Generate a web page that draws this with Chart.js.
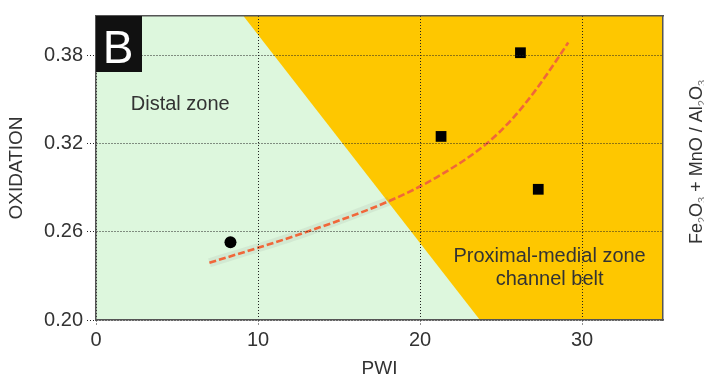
<!DOCTYPE html>
<html>
<head>
<meta charset="utf-8">
<script src="https://cdn.jsdelivr.net/npm/chart.js@4.4.0/dist/chart.umd.min.js"></script>
<style>
  html, body { margin: 0; padding: 0; background: #fff; }
  #wrap { width: 704px; height: 376px; }
</style>
</head>
<body>
<div id="wrap"><canvas id="myChart"></canvas></div>
<script>
// axes
let xTicks = [0, 10, 20, 30]
let yTicks = [0.20, 0.26, 0.32, 0.38]
let xMin = 0, xMax = 35
let yMin = 0.20, yMax = 0.407

// proximal-medial zone boundary (orange area above/right of it)
let zoneX = [9.1, 23.7, 35]
let zoneY = [0.407, 0.20, 0.20]

// samples
let circleX = [8.3]
let circleY = [0.253]
let squareX = [21.3, 26.2, 27.3]
let squareY = [0.325, 0.382, 0.289]

// trend curve
let trendX = [7.0, 10.1, 13.0, 18.1, 21.0, 24.1, 25.7, 27.1, 28.5, 29.15]
let trendY = [0.239, 0.2495, 0.260, 0.281, 0.297, 0.320, 0.337, 0.356, 0.378, 0.389]

function pts(xs, ys) {
    return xs.map((x, i) => ({ x: x, y: ys[i] }))
}

let fontFam = '"Liberation Sans", Arial, Helvetica, sans-serif'
let txt = '#333'

// texts drawn on top: panel letter, zone names, right axis label
let overlay = {
    id: 'overlay',
    afterDraw(chart) {
        let c = chart.ctx
        let a = chart.chartArea
        let sx = chart.scales.x, sy = chart.scales.y
        c.save()
        // B box
        c.fillStyle = '#111'
        c.fillRect(a.left, a.top, 46, 56)
        c.fillStyle = '#fff'
        c.font = '46px ' + fontFam
        c.textAlign = 'center'
        c.textBaseline = 'alphabetic'
        c.fillText('B', a.left + 22, a.top + 47)

        // zone names
        c.fillStyle = txt
        c.font = '20px ' + fontFam
        c.textBaseline = 'middle'
        c.fillText('Distal zone', sx.getPixelForValue(5.2), sy.getPixelForValue(0.3465))
        c.fillText('Proximal-medial zone', sx.getPixelForValue(28.0), sy.getPixelForValue(0.2435))
        c.fillText('channel belt', sx.getPixelForValue(28.0), sy.getPixelForValue(0.2275))

        // right label with subscripts, reads bottom to top
        let parts = [['Fe', 0], ['2', 1], ['O', 0], ['3', 1], [' + MnO / Al', 0], ['2', 1], ['O', 0], ['3', 1]]
        let big = '18px ' + fontFam, small = '11px ' + fontFam
        let total = 0
        parts.forEach(p => { c.font = p[1] ? small : big; total += c.measureText(p[0]).width })
        c.translate(702, (a.top + a.bottom) / 2 - 6)
        c.rotate(-Math.PI / 2)
        c.textAlign = 'left'
        c.textBaseline = 'alphabetic'
        let px = -total / 2
        parts.forEach(p => {
            c.font = p[1] ? small : big
            c.fillStyle = p[1] ? '#777' : txt
            c.fillText(p[0], px, p[1] ? 4 : 0)
            px += c.measureText(p[0]).width
        })
        c.restore()
    }
}

let frame = { display: true, color: '#555', width: 1.5, dash: [1, 2], z: 1 }

var ctx = document.getElementById('myChart').getContext('2d');
var myChart = new Chart(ctx, {
    type: 'scatter',
    data: {
        datasets: [
            {
                label: 'circle',
                data: pts(circleX, circleY),
                pointStyle: 'circle',
                pointRadius: 6,
                backgroundColor: '#000',
                borderColor: '#000',
                borderWidth: 0,
                order: 1
            },
            {
                label: 'square',
                data: pts(squareX, squareY),
                pointStyle: 'rect',
                pointRadius: 7.6,
                backgroundColor: '#000',
                borderColor: '#000',
                borderWidth: 0,
                order: 1
            },
            {
                label: 'trend',
                type: 'line',
                data: pts(trendX, trendY),
                borderColor: '#f0673a',
                borderWidth: 2.6,
                borderDash: [7, 3],
                pointRadius: 0,
                cubicInterpolationMode: 'monotone',
                fill: false,
                order: 2
            },
            {
                label: 'halo',
                type: 'line',
                data: pts(trendX.slice(0, 4), trendY.slice(0, 4)),
                borderColor: 'rgba(120,120,120,0.10)',
                borderWidth: 9,
                pointRadius: 0,
                cubicInterpolationMode: 'monotone',
                fill: false,
                order: 3
            },
            {
                label: 'proximal',
                type: 'line',
                data: pts(zoneX, zoneY),
                borderWidth: 0,
                borderColor: 'rgba(0,0,0,0)',
                backgroundColor: '#fec700',
                pointRadius: 0,
                tension: 0,
                fill: 'end',
                order: 4
            },
            {
                label: 'distal',
                type: 'line',
                data: pts([xMin, xMax], [yMax, yMax]),
                borderWidth: 0,
                borderColor: 'rgba(0,0,0,0)',
                backgroundColor: '#ddf7dd',
                pointRadius: 0,
                fill: 'start',
                order: 5
            }
        ]
    },
    options: {
        animation: false,
        responsive: true,
        maintainAspectRatio: false,
        layout: { padding: { top: 13, left: 0, right: 0, bottom: 0 } },
        plugins: {
            legend: { display: false },
            tooltip: { enabled: false }
        },
        scales: {
            x: {
                type: 'linear',
                position: 'bottom',
                min: xMin,
                max: xMax,
                afterBuildTicks: s => { s.ticks = xTicks.map(v => ({ value: v })) },
                afterFit: s => { s.height = 56 },
                ticks: {
                    color: txt,
                    font: { family: fontFam, size: 20 },
                    padding: 3,
                    maxRotation: 0,
                    callback: v => String(v)
                },
                grid: {
                    color: '#222',
                    lineWidth: 1,
                    tickLength: 5,
                    tickColor: '#222',
                    tickBorderDash: [1, 2],
                    z: 1
                },
                border: frame,
                title: {
                    display: true,
                    text: 'PWI',
                    color: txt,
                    font: { family: fontFam, size: 19, lineHeight: 0.8 },
                    padding: 0
                }
            },
            y: {
                type: 'linear',
                position: 'left',
                min: yMin,
                max: yMax,
                afterBuildTicks: s => { s.ticks = yTicks.map(v => ({ value: v })) },
                afterFit: s => { s.width = 96 },
                ticks: {
                    color: txt,
                    font: { family: fontFam, size: 20 },
                    padding: 4,
                    callback: v => Number(v).toFixed(2)
                },
                grid: {
                    color: '#222',
                    lineWidth: 1,
                    tickLength: 9,
                    tickColor: '#222',
                    tickBorderDash: [1, 2],
                    z: 1
                },
                border: frame,
                title: {
                    display: true,
                    text: 'OXIDATION',
                    color: txt,
                    font: { family: fontFam, size: 19, lineHeight: 1 },
                    padding: { top: 7, bottom: 0 }
                }
            },
            x2: {
                type: 'linear',
                axis: 'x',
                position: 'top',
                min: xMin,
                max: xMax,
                afterFit: s => { s.height = 0 },
                ticks: { display: false },
                grid: { display: false, drawTicks: false },
                border: frame
            },
            y2: {
                type: 'linear',
                axis: 'y',
                position: 'right',
                min: yMin,
                max: yMax,
                afterFit: s => { s.width = 41 },
                ticks: { display: false },
                grid: { display: false, drawTicks: false },
                border: frame
            }
        }
    },
    plugins: [overlay]
});
</script>
</body>
</html>
